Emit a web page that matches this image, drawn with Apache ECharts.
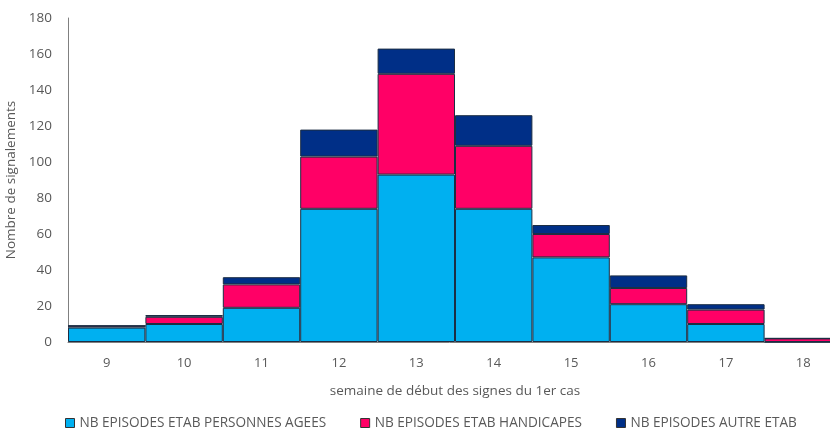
<!DOCTYPE html>
<html><head><meta charset="utf-8">
<script src="https://cdn.jsdelivr.net/npm/echarts@6/dist/echarts.min.js"></script>
<style>html,body{margin:0;padding:0;background:#fff}#c{width:830px;height:428px}</style>
</head><body><div id="c"></div>
<script>
const categories = ['9','10','11','12','13','14','15','16','17','18'];
const personnesAgees = [8,10,19,74,93,74,47,21,10,0];
const handicapes = [1,4,13,29,56,35,13,9,8,2];
const autreEtab = [0,1,4,15,14,17,5,7,3,0];
const seriesNames = ['NB EPISODES ETAB PERSONNES AGEES','NB EPISODES ETAB HANDICAPES','NB EPISODES AUTRE ETAB'];
const colors = ['#00B0F0','#FF0066','#002F87'];
const font = 'Open Sans';
const chart = echarts.init(document.getElementById('c'));
const mk = (name, data, color) => ({
  name, type:'bar', stack:'t', data, barCategoryGap:'0%',
  itemStyle:{color, borderColor:'#1c2e44', borderWidth:1}
});
chart.setOption({
  animation:false,
  textStyle:{fontFamily:font},
  color: colors,
  grid:{left:68, right:-12, top:18, bottom:86, outerBoundsMode:'none', containLabel:false},
  legend:{top:411, left:60, itemWidth:9, itemHeight:9, itemGap:34, icon:'rect',
    itemStyle:{borderColor:'#333', borderWidth:1},
    textStyle:{fontFamily:font, fontSize:13.6, color:'#595959'}},
  xAxis:{type:'category', data:categories,
    axisLine:{lineStyle:{color:'#808080'}}, axisTick:{show:false},
    axisLabel:{fontSize:13, color:'#595959', margin:15},
    name:'semaine de début des signes du 1er cas', nameLocation:'middle', nameGap:42,
    nameTextStyle:{fontSize:13.5, color:'#595959'}},
  yAxis:{type:'value', min:0, max:180, interval:20,
    axisLine:{show:true, lineStyle:{color:'#808080'}}, axisTick:{show:false},
    splitLine:{show:false},
    axisLabel:{fontSize:13.5, color:'#595959', margin:16},
    name:'Nombre de signalements', nameLocation:'middle', nameGap:45,
    nameTextStyle:{fontSize:13.5, color:'#595959'}},
  series:[mk(seriesNames[0], personnesAgees, colors[0]), mk(seriesNames[1], handicapes, colors[1]), mk(seriesNames[2], autreEtab, colors[2])]
});
</script></body></html>
